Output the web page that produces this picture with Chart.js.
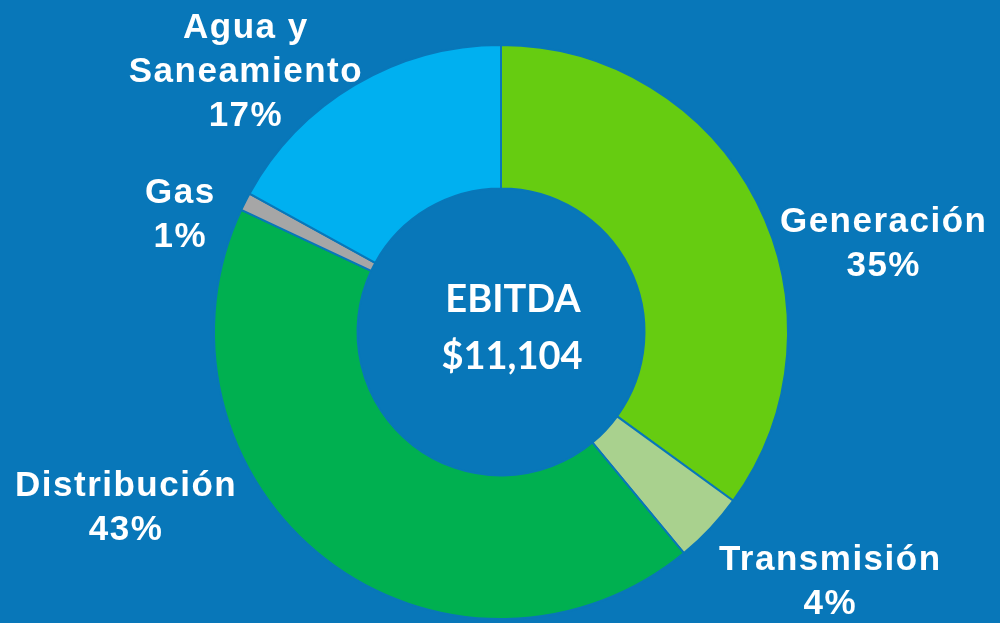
<!DOCTYPE html>
<html>
<head>
<meta charset="utf-8">
<script src="https://cdn.jsdelivr.net/npm/chart.js@4/dist/chart.umd.min.js"></script>
<style>
  html, body { margin: 0; padding: 0; background: #0877b9; }
  #wrap { width: 1000px; height: 623px; }
</style>
</head>
<body>
<div id="wrap"><canvas id="ebitdaChart" width="1000" height="623"></canvas></div>
<script>
// data
const segments = ['Generación', 'Transmisión', 'Distribución', 'Gas', 'Agua y Saneamiento'];
const labelLines = [['Generación'], ['Transmisión'], ['Distribución'], ['Gas'], ['Agua y', 'Saneamiento']];
const shares = [35, 4, 43, 1, 17];
const centerTitle = 'EBITDA';
const centerValue = '$11,104';

const sliceColors = ['#66cc11', '#a9d18e', '#00b050', '#a6a6a6', '#00b0f0'];
const bg = '#0877b9';

// label nudges from each slice's outer mid point (px)
const labelNudge = [[127, 30], [120, 42], [-199, -63], [-65, 1], [-109, -47]];

const labelPlugin = {
    id: 'sliceLabels',
    afterDraw(chart) {
        const ctx = chart.ctx;
        const meta = chart.getDatasetMeta(0);
        const total = shares.reduce((a, b) => a + b, 0);
        ctx.save();
        ctx.fillStyle = '#ffffff';
        ctx.textAlign = 'center';
        ctx.textBaseline = 'alphabetic';
        ctx.font = 'bold 35px "Liberation Sans", Arial, sans-serif';
        ctx.letterSpacing = '1.5px';
        meta.data.forEach((arc, i) => {
            const p = arc.getProps(['x', 'y', 'startAngle', 'endAngle', 'outerRadius'], true);
            const mid = (p.startAngle + p.endAngle) / 2;
            const ax = p.x + Math.cos(mid) * p.outerRadius + labelNudge[i][0];
            let ay = p.y + Math.sin(mid) * p.outerRadius + labelNudge[i][1];
            const lines = labelLines[i].concat([Math.round(shares[i] / total * 100) + '%']);
            lines.forEach(t => {
                ctx.fillText(t, ax, ay);
                ay += 44;
            });
        });
        // centre text, sits a bit right of the hole's centre
        const c = meta.data[0];
        ctx.letterSpacing = '0px';
        ctx.font = 'bold 38px Lato, "Open Sans", sans-serif';
        ctx.fillText(centerTitle, c.x + 12, c.y - 20);
        ctx.fillText(centerValue, c.x + 11, c.y + 37);
        ctx.restore();
    }
};

new Chart(document.getElementById('ebitdaChart'), {
    type: 'doughnut',
    data: {
        labels: segments,
        datasets: [{
            data: shares,
            backgroundColor: sliceColors,
            borderColor: bg,
            borderWidth: 2
        }]
    },
    options: {
        responsive: false,
        animation: false,
        cutout: '50%',
        layout: { padding: { top: 44, bottom: 3, left: 2, right: 0 } },
        plugins: {
            legend: { display: false },
            tooltip: { enabled: false }
        }
    },
    plugins: [labelPlugin]
});
</script>
</body>
</html>
